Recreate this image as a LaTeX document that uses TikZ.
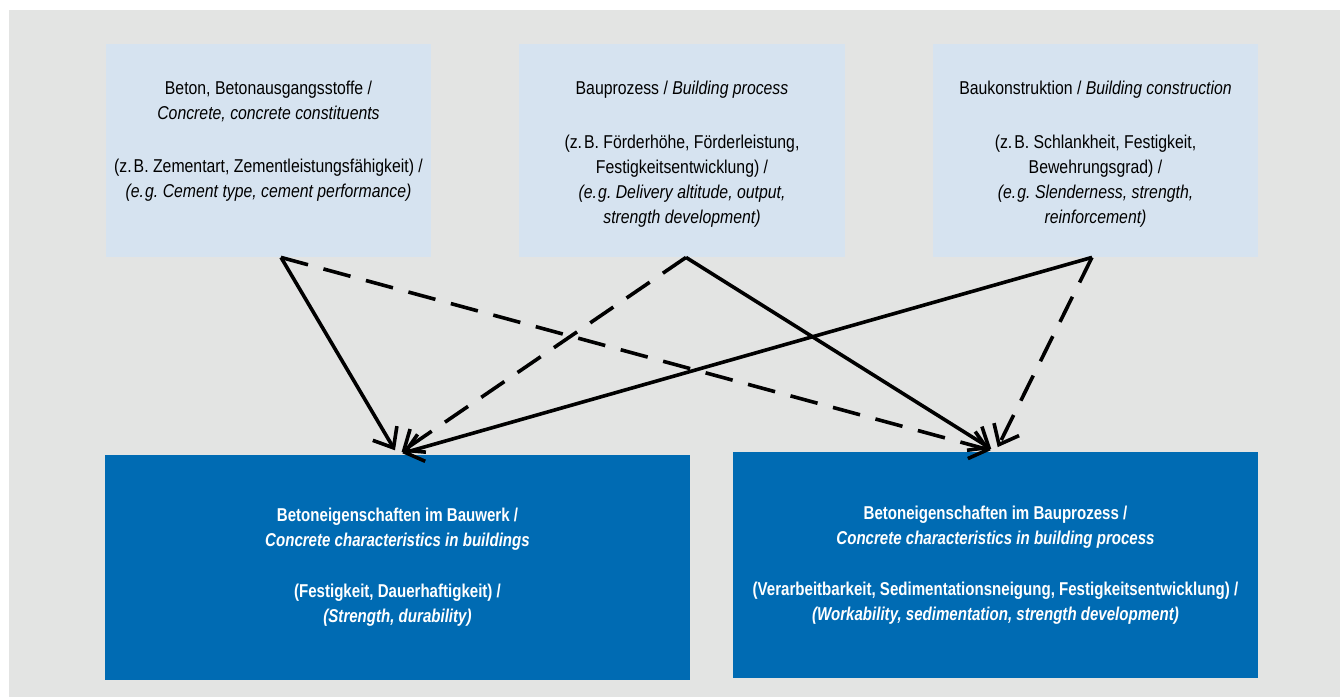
\documentclass[tikz,border=0pt]{standalone}
\usepackage{fontspec}
\setmainfont{Liberation Sans}[FakeStretch=0.85, BoldFeatures={FakeStretch=0.81}, BoldItalicFeatures={FakeStretch=0.81}]
\usetikzlibrary{positioning,arrows.meta}
\definecolor{bggrey}{HTML}{E3E4E3}
\definecolor{lightblue}{HTML}{D6E3F0}
\definecolor{darkblue}{HTML}{006BB3}
\newcommand{\zb}{z.\kern1pt B.}
\newcommand{\eg}{e.\kern0.6pt g.}
\tikzset{
  inbox/.style={fill=lightblue, minimum width=#1, minimum height=106.5pt, inner sep=0pt},
  outbox/.style={fill=darkblue, minimum width=#1, minimum height=112.5pt, inner sep=0pt,
    text=white, font=\fontsize{9.3}{12.5}\selectfont\bfseries, align=center},
  intext/.style={inner sep=0pt, align=center, font=\fontsize{9.3}{12.5}\selectfont},
  link/.style={line width=1.8pt, -{Straight Barb[length=8.5pt,width=14pt,line width=1.8pt]}, shorten >=2.5pt},
  maybe/.style={link, dash pattern=on 14pt off 8pt}
}
\begin{document}
\begin{tikzpicture}[x=0.5pt,y=-0.5pt]
  \useasboundingbox (0,0) rectangle (1340,697);
  \fill[bggrey] (9,10) rectangle (1340,697);

  \node[inbox=162.5pt] (beton) at (268.5,150.5) {};
  \node[inbox=163pt] (prozess) at (682,150.5) {};
  \node[inbox=162.5pt] (konstr) at (1095.5,150.5) {};

  \node[intext, below=18.5pt of beton.north] (betontxt) {Beton, Betonausgangsstoffe /\\
    \textit{Concrete, concrete constituents}\\[14pt]
    (\zb\ Zementart, Zementleistungsfähigkeit) /\\
    \textit{(\eg\ Cement type, cement performance)}};
  \node[intext, below=18.5pt of prozess.north] (prozesstxt) {Bauprozess / \textit{Building process}\\[14.5pt]
    (\zb\ Förderhöhe, Förderleistung,\\
    Festigkeitsentwicklung) /\\
    \textit{(\eg\ Delivery altitude, output,}\\
    \textit{strength development)}};
  \node[intext, below=18.5pt of konstr.north] (konstrtxt) {Baukonstruktion / \textit{Building construction}\\[14.5pt]
    (\zb\ Schlankheit, Festigkeit,\\
    Bewehrungsgrad) /\\
    \textit{(\eg\ Slenderness, strength,}\\
    \textit{reinforcement)}};

  \node[outbox=292.5pt] (bauwerk) at (397.5,567.5) {Betoneigenschaften im Bauwerk /\\
    \textit{Concrete characteristics in buildings}\\[13pt]
    (Festigkeit, Dauerhaftigkeit) /\\
    \textit{(Strength, durability)}};
  \node[outbox=262.5pt, minimum height=113pt] (bauprozess) at (995.5,565) {Betoneigenschaften im Bauprozess /\\
    \textit{Concrete characteristics in building process}\\[13pt]
    (Verarbeitbarkeit, Sedimentationsneigung, Festigkeitsentwicklung) /\\
    \textit{(Workability, sedimentation, strength development)}};

  \coordinate (s1) at ([xshift=6.25pt]beton.south);
  \coordinate (s2) at ([xshift=2pt]prozess.south);
  \coordinate (s3) at ([xshift=-1.75pt]konstr.south);

  \draw[link] (s1) -- (bauwerk.north);
  \draw[maybe] (s1) -- (bauprozess.north);
  \draw[maybe] (s2) -- (bauwerk.north);
  \draw[link] (s2) -- (bauprozess.north);
  \draw[link] (s3) -- (bauwerk.north);
  \draw[maybe] (s3) -- (bauprozess.north);
\end{tikzpicture}
\end{document}
